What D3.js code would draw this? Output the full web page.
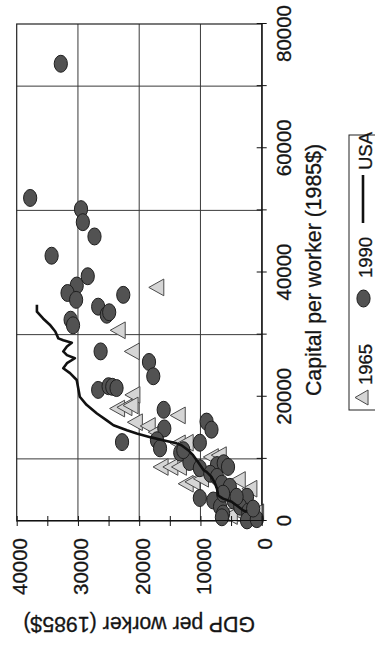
<!DOCTYPE html>
<html>
<head>
<meta charset="utf-8">
<script src="https://cdn.jsdelivr.net/npm/d3@7"></script>
<style>
  body { margin: 0; background: #fff; }
  svg { display: block; font-family: 'Liberation Sans', Arial, sans-serif; }
  text { fill: #151515; stroke: #151515; stroke-width: 0.3px; }
</style>
</head>
<body>
<svg id="chart" width="375" height="646"></svg>
<script>
// capital per worker vs GDP per worker (1985$), the figure is printed turned a quarter
var capital1965 = [37600, 30700, 27300, 20300, 18100, 18300, 18600, 17000, 15900, 15300, 14300, 12500, 12600,
  8700, 8700, 8700, 6000, 6300, 6800, 10300, 10600, 5200, 6600, 3900, 1700, 600, 1400, 2900, 800]
var gdp1965 = [16800, 23100, 20800, 20700, 23200, 22000, 21000, 13300, 20300, 18200, 16900, 13300, 12000,
  16100, 14500, 13100, 12000, 10900, 9500, 7900, 6600, 1600, 3500, 4900, 4100, 1100, 500, 2600, 4800]

var capital1990 = [73600, 52000, 50200, 48100, 45800, 42700, 39400, 37900, 36700, 35600, 36400, 34500, 33200,
  33600, 32400, 31500, 27300, 25600, 23300, 21100, 21700, 21600, 21400, 17900, 14900, 12700, 13000, 11700,
  12600, 16000, 14700, 11000, 9500, 8500, 3700, 9000, 9300, 8700, 7600, 7100, 6000, 5500, 3300, 2300, 1200,
  3300, 3900, 2300, 1500, 600, 100, 300, 11400, 3900, 4400, 600, 2000]
var gdp1990 = [32800, 37800, 29500, 29200, 27300, 34300, 28400, 30200, 31700, 30300, 22600, 26700, 25300,
  24900, 31200, 30800, 26300, 18400, 17700, 26700, 25000, 24400, 23700, 16000, 15900, 22800, 17100, 16600,
  10100, 9000, 8200, 13300, 11800, 10100, 10100, 7300, 6200, 5500, 8400, 7300, 6500, 5200, 7900, 6800, 6300,
  4600, 2400, 3500, 2200, 1400, 2400, 800, 12800, 4100, 6300, 6500, 1400]

var usaCapital = [1500, 1700, 2300, 3100, 3600, 4100, 5200, 6000, 7100, 7900, 8200, 9500, 10600, 11400, 12200,
  12500, 13000, 13500, 14100, 14600, 15400, 16200, 17300, 18700, 20000, 21100, 22700, 23800, 24600, 25400,
  26200, 26700, 27300, 28100, 28700, 29100, 29400, 30500, 31600, 32600, 33700, 34800]
var usaGdp = [2400, 3000, 3800, 4900, 6300, 7100, 7300, 7600, 8200, 9000, 9500, 10400, 11200, 12000, 13100,
  13900, 16100, 18200, 20400, 22000, 24200, 25300, 26900, 28600, 29700, 29900, 30200, 31300, 32400, 31800,
  30500, 31800, 32400, 31800, 31000, 32400, 33200, 33700, 34600, 35700, 36700, 36700]

var capitalTicks = [0, 10000, 20000, 30000, 40000, 50000, 60000, 70000, 80000]
var capitalLabels = [0, 20000, 40000, 60000, 80000]
var capitalGrid = [10000, 30000, 50000, 70000]
var gdpTicks = [0, 5000, 10000, 15000, 20000, 25000, 30000, 35000, 40000]
var gdpLabels = [0, 10000, 20000, 30000, 40000]
var gdpGrid = [10000, 20000, 30000]
var legendLabels = ['1965', '1990', 'USA']

var svg = d3.select('#chart')

// draw upright on a 646 x 375 canvas, then rotate it counter-clockwise
var page = svg.append('g').attr('transform', 'translate(0,646) rotate(-90)')

var margin = { left: 125, top: 16.7 }
var width = 497
var height = 245

var x = d3.scaleLinear().domain([0, 80000]).range([0, width])
var y = d3.scaleLinear().domain([0, 40000]).range([height, 0])

var plot = page.append('g').attr('transform', 'translate(' + margin.left + ',' + margin.top + ')')

// grid
plot
  .selectAll('.vgrid')
  .data(capitalGrid)
  .enter()
  .append('line')
  .attr('x1', d => x(d))
  .attr('x2', d => x(d))
  .attr('y1', 0)
  .attr('y2', height)
  .attr('stroke', '#3a3a3a')
  .attr('stroke-width', 1)
plot
  .selectAll('.hgrid')
  .data(gdpGrid)
  .enter()
  .append('line')
  .attr('x1', 0)
  .attr('x2', width)
  .attr('y1', d => y(d))
  .attr('y2', d => y(d))
  .attr('stroke', '#3a3a3a')
  .attr('stroke-width', 1)
plot
  .append('rect')
  .attr('width', width)
  .attr('height', height)
  .attr('fill', 'none')
  .attr('stroke', '#222')
  .attr('stroke-width', 1.2)

// markers
var triangle = function (w, h) {
  return 'M0,' + (-h * 2) / 3 + 'L' + w / 2 + ',' + h / 3 + 'L' + -w / 2 + ',' + h / 3 + 'Z'
}

plot
  .selectAll('.t65')
  .data(d3.range(capital1965.length))
  .enter()
  .append('path')
  .attr('d', triangle(16.7, 15))
  .attr('transform', i => 'translate(' + x(capital1965[i]) + ',' + y(gdp1965[i]) + ')')
  .attr('fill', '#d5d5d5')
  .attr('stroke', '#4a4a4a')
  .attr('stroke-width', 1)

plot
  .selectAll('.c90')
  .data(d3.range(capital1990.length))
  .enter()
  .append('ellipse')
  .attr('cx', i => x(capital1990[i]))
  .attr('cy', i => y(gdp1990[i]))
  .attr('rx', 8.5)
  .attr('ry', 6.6)
  .attr('fill', '#525252')
  .attr('stroke', '#1e1e1e')
  .attr('stroke-width', 1)

var usaLine = d3
  .line()
  .x(i => x(usaCapital[i]))
  .y(i => y(usaGdp[i]))
plot
  .append('path')
  .datum(d3.range(usaCapital.length))
  .attr('d', usaLine)
  .attr('fill', 'none')
  .attr('stroke', '#111')
  .attr('stroke-width', 2.6)
  .attr('stroke-linejoin', 'round')

// axes
var xAxis = plot
  .append('g')
  .attr('transform', 'translate(0,' + height + ')')
  .call(
    d3
      .axisBottom(x)
      .tickValues(capitalTicks)
      .tickSizeOuter(0)
      .tickFormat(d => (capitalLabels.indexOf(d) >= 0 ? d : ''))
  )
xAxis.select('.domain').attr('stroke', '#111')
xAxis.selectAll('.tick line').attr('y1', -5).attr('y2', 5).attr('stroke', '#111')
xAxis
  .selectAll('.tick text')
  .attr('y', 29.5)
  .attr('dy', null)
  .attr('dx', d => (d === 80000 ? -10 : 0))
  .attr('font-size', '20.5px')
  .attr('font-family', null)
  .attr('fill', null)

var yAxis = plot
  .append('g')
  .call(
    d3
      .axisLeft(y)
      .tickValues(gdpTicks)
      .tickSizeOuter(0)
      .tickFormat(d => (gdpLabels.indexOf(d) >= 0 ? d : ''))
  )
yAxis.select('.domain').attr('stroke', '#111')
yAxis.selectAll('.tick line').attr('x1', -5).attr('x2', 5).attr('stroke', '#111')
yAxis
  .selectAll('.tick text')
  .attr('x', -17)
  .attr('y', 9.8)
  .attr('dy', null)
  .attr('font-size', '20.5px')
  .attr('font-family', null)
  .attr('fill', null)

// axis titles
plot
  .append('text')
  .attr('x', 251)
  .attr('y', 304.5)
  .attr('text-anchor', 'middle')
  .attr('font-size', '21.3px')
  .text('Capital per worker (1985$)')
plot
  .append('text')
  .attr('transform', 'translate(-96,' + height / 2 + ') rotate(-90)')
  .attr('text-anchor', 'middle')
  .attr('font-size', '21.3px')
  .text('GDP per worker (1985$)')

// legend
var legend = page.append('g').attr('transform', 'translate(236,349)')
legend
  .append('rect')
  .attr('width', 275)
  .attr('height', 32)
  .attr('fill', 'none')
  .attr('stroke', '#222')
  .attr('stroke-width', 1)
legend
  .append('path')
  .attr('d', triangle(15, 13))
  .attr('transform', 'translate(12.5,14.7)')
  .attr('fill', '#d5d5d5')
  .attr('stroke', '#4a4a4a')
legend
  .append('ellipse')
  .attr('cx', 111.5)
  .attr('cy', 14.5)
  .attr('rx', 8.5)
  .attr('ry', 6.6)
  .attr('fill', '#525252')
  .attr('stroke', '#1e1e1e')
legend
  .append('line')
  .attr('x1', 187)
  .attr('x2', 235)
  .attr('y1', 14)
  .attr('y2', 14)
  .attr('stroke', '#111')
  .attr('stroke-width', 2.6)
legend
  .selectAll('.lab')
  .data(legendLabels)
  .enter()
  .append('text')
  .attr('x', (d, i) => [25, 132, 240][i])
  .attr('y', 23)
  .attr('font-size', '18.5px')
  .text(d => d)
</script>
</body>
</html>
